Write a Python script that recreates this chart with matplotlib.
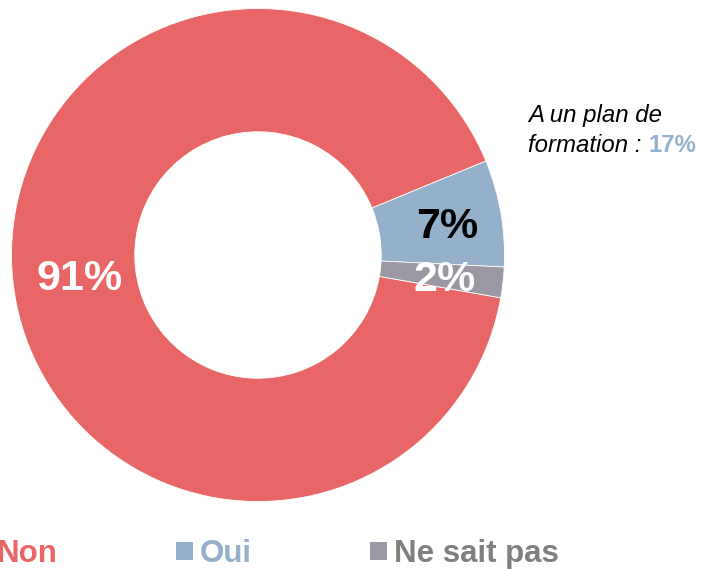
import numpy as np
import matplotlib.pyplot as plt

# Data
categories = ["Non", "Oui", "Ne sait pas"]
values = [91, 7, 2]
colors = ["#E96667", "#95B0CB", "#9B97A3"]
legend_text_colors = ["#E96667", "#95B0CB", "#7F7F7F"]
label_colors = ["white", "black", "white"]
note_value = "17%"

plt.rcParams['font.family'] = ['Liberation Sans', 'DejaVu Sans']

fig = plt.figure(figsize=(7.02, 5.70), dpi=100)

# Donut axes, centre ~ (258, 255) px, radius ~ 246.5 px
cx, cy, r = 258, 255, 246.5
ax = fig.add_axes([(cx - r) / 702, (570 - cy - r) / 570, 2 * r / 702, 2 * r / 570])

wedges, texts = ax.pie(
    values, colors=colors, startangle=-10, counterclock=False,
    wedgeprops=dict(width=0.5, edgecolor="white", linewidth=0.6))

# percentage labels at the middle of each wedge
label_radius = [0.73, 0.78, 0.76]
for w, v, c, rr in zip(wedges, values, label_colors, label_radius):
    mid = np.deg2rad((w.theta1 + w.theta2) / 2)
    ax.text(rr * np.cos(mid), rr * np.sin(mid), f"{v}%", color=c,
            fontsize=31, fontweight="bold", ha="center", va="center_baseline")

ax.set_xlim(-1, 1)
ax.set_ylim(-1, 1)
ax.set_aspect("auto")
ax.axis("off")

# Side note
fig.text(528 / 702, (570 - 122) / 570, "A un plan de", fontsize=17.3,
         style="italic", va="baseline", ha="left")
t2 = fig.text(528 / 702, (570 - 152) / 570, "formation : ", fontsize=17.3,
              style="italic", va="baseline", ha="left")
renderer = fig.canvas.get_renderer()
bb = t2.get_window_extent(renderer=renderer)
fig.text(bb.x1 / 702, (570 - 152) / 570, note_value, fontsize=17.3,
         fontweight="bold", color=colors[1], va="baseline", ha="left")

# Legend
leg = fig.legend(wedges, categories, loc="center left",
                 bbox_to_anchor=(-27 / 702, (570 - 554) / 570), ncol=3,
                 frameon=False, borderpad=0, borderaxespad=0,
                 handlelength=0.55, handleheight=0.55, handletextpad=0.2,
                 columnspacing=3.8, prop=dict(size=22.5, weight="bold"))
for txt, c in zip(leg.get_texts(), legend_text_colors):
    txt.set_color(c)
for h in leg.legend_handles:
    h.set_edgecolor("none")

fig.savefig("out.png", dpi=100)
